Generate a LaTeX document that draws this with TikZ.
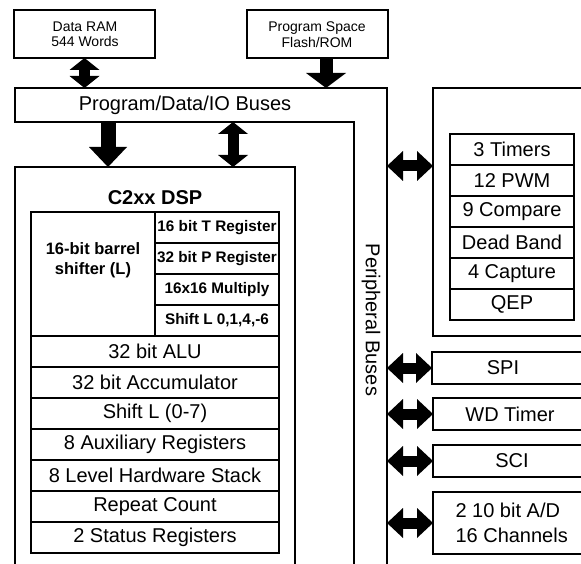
\documentclass[tikz,border=0pt]{standalone}
\usepackage{fontspec}
\setmainfont{Liberation Sans}
\usetikzlibrary{arrows.meta,calc}

\tikzset{
  box/.style={draw, line width=2.8pt, inner sep=0pt, outer sep=0pt},
  cell/.style={box, anchor=north west, font=\fontsize{20}{22}\selectfont},
  smallcell/.style={box, anchor=north west, font=\fontsize{15.3}{17}\bfseries},
  memtext/.style={align=center, font=\fontsize{14}{15.5}\selectfont},
  bigtext/.style={font=\fontsize{20}{22}\selectfont},
  headtip/.tip={Triangle[length=12pt, width=30pt, line width=0pt]},
  dblbus/.style={line width=11pt, {headtip}-{headtip}},
  downbus/.style={line width=15pt, -{Triangle[length=20pt, width=38pt, line width=0pt]}},
  flashbus/.style={line width=13pt, -{Triangle[length=15pt, width=40pt, line width=0pt]}},
  sidebus/.style={line width=11pt, {Triangle[length=16pt, width=30pt, line width=0pt]}-{Triangle[length=16pt, width=30pt, line width=0pt]}}
}

\begin{document}
\begin{tikzpicture}[x=1pt, y=-1pt]
\useasboundingbox (0,0) rectangle (581,564);

% memories on top
\node[box, minimum width=141pt, minimum height=48pt, anchor=north west] (ram) at (14,10) {};
\node[memtext] (ramtxt) at (85,34.5) {Data RAM\\544 Words};
\node[box, minimum width=141pt, minimum height=48pt, anchor=north west] (flash) at (247,10) {};
\node[memtext] (flashtxt) at (317,34.5) {Program Space\\Flash/ROM};

% L-shaped program/data/IO bus with the peripheral bus leg
\coordinate (busN) at (0,88);
\coordinate (busS) at (0,122);
\coordinate (busE) at (387,0);
\draw[box] (387,580) -- (387,88) -- (15,88) -- (15,122) -- (354,122) -- (354,580);
\node[bigtext] (bustxt) at (185,105) {Program/Data/IO Buses};
\node[bigtext, rotate=-90] (pbustxt) at (371,320) {Peripheral Buses};

% DSP core
\coordinate (dspN) at (0,167);
\draw[box] (15,580) -- (15,167) -- (295,167) -- (295,580);
\node[font=\fontsize{20}{22}\bfseries] (dsptxt) at (155,198) {C2xx DSP};

\node[box, minimum width=124pt, minimum height=124pt, anchor=north west] (barrel) at (31,212) {};
\node[align=center, font=\fontsize{16.5}{19.5}\bfseries] (barreltxt) at (93,260) {16-bit barrel\\shifter (L)};
\node[smallcell, minimum width=124pt, minimum height=31pt] (treg) at (155,212) {16 bit T Register};
\node[smallcell, minimum width=124pt, minimum height=31pt] (preg) at (155,243) {32 bit P Register};
\node[smallcell, minimum width=124pt, minimum height=31pt] (mult) at (155,274) {16x16 Multiply};
\node[smallcell, minimum width=124pt, minimum height=31pt] (pshift) at (155,305) {Shift L 0,1,4,-6};

\node[cell, minimum width=248pt, minimum height=31pt] (alu) at (31,336) {32 bit ALU};
\node[cell, minimum width=248pt, minimum height=31pt] (acc) at (31,367) {32 bit Accumulator};
\node[cell, minimum width=248pt, minimum height=31pt] (ashift) at (31,398) {Shift L (0-7)};
\node[cell, minimum width=248pt, minimum height=31pt] (aux) at (31,429) {8 Auxiliary Registers};
\node[cell, minimum width=248pt, minimum height=31pt] (stack) at (31,460) {8 Level Hardware Stack};
\node[cell, minimum width=248pt, minimum height=31pt] (rpt) at (31,491) {Repeat Count};
\node[cell, minimum width=248pt, minimum height=31pt] (status) at (31,522) {2 Status Registers};

% event manager block
\node[box, minimum width=180pt, minimum height=248pt, anchor=north west] (evm) at (433,88) {};
\node[cell, minimum width=124pt, minimum height=31pt] (tmr) at (450,134) {3 Timers};
\node[cell, minimum width=124pt, minimum height=31pt] (pwm) at (450,165) {12 PWM};
\node[cell, minimum width=124pt, minimum height=31pt] (cmp) at (450,196) {9 Compare};
\node[cell, minimum width=124pt, minimum height=31pt] (dead) at (450,227) {Dead Band};
\node[cell, minimum width=124pt, minimum height=31pt] (cap) at (450,258) {4 Capture};
\node[cell, minimum width=124pt, minimum height=31pt] (qep) at (450,289) {QEP};

% other peripherals
\node[box, minimum width=180pt, minimum height=32pt, anchor=north west] (spi) at (432,352) {};
\node[bigtext] (spitxt) at (503,368) {SPI};
\node[box, minimum width=180pt, minimum height=32pt, anchor=north west] (wd) at (433,398) {};
\node[bigtext] (wdtxt) at (510,414) {WD Timer};
\node[box, minimum width=180pt, minimum height=32pt, anchor=north west] (sci) at (433,445) {};
\node[bigtext] (scitxt) at (512,461) {SCI};
\node[box, minimum width=180pt, minimum height=62pt, anchor=north west] (adc) at (433,492) {};
\node[align=left, font=\fontsize{20}{25}\selectfont, anchor=west] (adctxt) at (452,523) {2 10 bit A/D\\16 Channels};

% bus connections
\coordinate (fl) at (326,0);
\coordinate (dl) at (108,0);
\coordinate (dr) at (233,0);
\coordinate (evmy) at (0,166);
\draw[dblbus] (ram.south) -- (ram.south |- busN);
\draw[flashbus] (flash.south -| fl) -- (fl |- busN);
\draw[downbus] (dl |- busS) -- (dl |- dspN);
\draw[dblbus] (dr |- busS) -- (dr |- dspN);
\draw[sidebus] (busE |- evmy) -- (evm.west |- evmy);
\draw[sidebus] (busE |- spi.west) -- (spi.west);
\draw[sidebus] (busE |- wd.west) -- (wd.west);
\draw[sidebus] (busE |- sci.west) -- (sci.west);
\draw[sidebus] (busE |- adc.west) -- (adc.west);
\end{tikzpicture}
\end{document}
